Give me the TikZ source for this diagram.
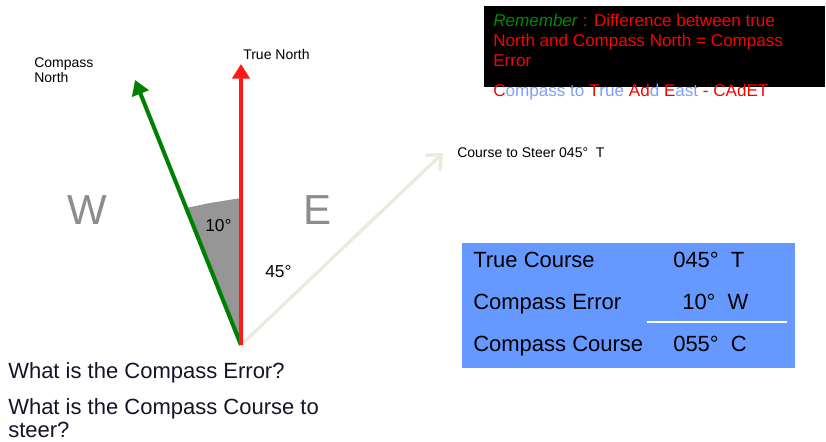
\documentclass[tikz,border=0pt]{standalone}
\usepackage{fontspec}
\setmainfont{Liberation Sans}
\usetikzlibrary{arrows.meta, positioning}
\definecolor{cnorthgreen}{RGB}{0,128,0}
\definecolor{tnorthred}{RGB}{255,25,25}
\definecolor{coursebeige}{RGB}{236,234,222}
\definecolor{sectorgrey}{RGB}{150,150,150}
\definecolor{lettergrey}{RGB}{140,140,140}
\definecolor{tableblue}{RGB}{102,153,255}
\definecolor{memored}{RGB}{255,0,0}
\definecolor{memogreen}{RGB}{0,140,0}
\definecolor{cadetblue}{RGB}{125,160,250}
\definecolor{asktext}{RGB}{20,20,40}

\begin{document}
\begin{tikzpicture}[x=0.75pt, y=-0.75pt,
    every node/.style={inner sep=0pt, anchor=base west, font=\fontsize{12.8}{15}\selectfont},
    small/.style={font=\fontsize{10.5}{11.25}\selectfont},
    big/.style={font=\fontsize{16.5}{18}\selectfont},
    compassletter/.style={font=\fontsize{31.5}{36}\selectfont, text=lettergrey},
    angletxt/.style={font=\fontsize{13}{15}\selectfont},
    northarrow/.style={line width=3pt, -{Triangle[length=11pt, width=13pt]}}]
    \useasboundingbox (0,0) rectangle (826,442);

    % origin and arrow tips
    \coordinate (o) at (241,345);
    \coordinate (tn) at (241,64);
    \coordinate (cn) at (135,80);
    \coordinate (cs) at (443,153);

    % compass error sector
    \fill[sectorgrey] (o) -- (241,198) -- (210,203) -- (186,208) -- cycle;

    \draw[line width=2.5pt, coursebeige, -{Straight Barb[length=9pt, width=16pt]}] (o) -- (cs);
    \draw[northarrow, cnorthgreen] (o) -- (cn);
    \draw[northarrow, tnorthred] (o) -- (tn);

    % base of a two line node is its last line
    \node[small, align=left] (cnlabel) at (34,83) {Compass\\North};
    \node[small] (tnlabel) at (243,60) {True North};
    \node[small] (cslabel) at (457,158) {Course to Steer 045°\ \ T};

    \node[compassletter] (west) at (67,225) {W};
    \node[compassletter] (east) at (303,225) {E};
    \node[angletxt] (err) at (205,232) {10°};
    \node[angletxt] (crs) at (265,278) {45°};

    % remember box
    \node[fill=black, anchor=north west, minimum width=255.75pt, minimum height=60.75pt] (memobox) at (484,6) {};
    \node[text=memored, align=left] (memo) at (493,67) {\textcolor{memogreen}{\textit{Remember}} : Difference between true\\North and Compass North = Compass\\Error};
    \node (cadet) at (493,97) {\textcolor{memored}{C}\textcolor{cadetblue}{ompass to }\textcolor{memored}{T}\textcolor{cadetblue}{rue }\textcolor{memored}{Ad}\textcolor{cadetblue}{d }\textcolor{memored}{E}\textcolor{cadetblue}{ast }\textcolor{memored}{- CAdET}};

    % course table
    \node[fill=tableblue, anchor=north west, minimum width=249.75pt, minimum height=93.75pt] (table) at (462,243) {};
    \node[big] (tc) at (473,268) {True Course};
    \node[big] (tcval) at (673,268) {045°\ \ T};
    \node[big] (ce) at (473,310) {Compass Error};
    \node[big] (ceval) at (682,310) {10°\ \ W};
    \draw[white, line width=1.5pt] (647,322) -- (787,322);
    \node[big] (cc) at (473,352) {Compass Course};
    \node[big] (ccval) at (673,352) {055°\ \ C};

    % questions
    \node[big, text=asktext] (q1) at (8,379) {What is the Compass Error?};
    \node[big, text=asktext] (q2) at (8,415) {What is the Compass Course to};
    \node[big, text=asktext] (q3) at (8,438) {steer?};
\end{tikzpicture}
\end{document}
